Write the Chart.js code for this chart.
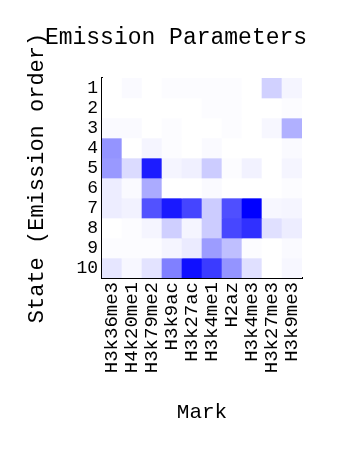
<!DOCTYPE html>
<html>
<head>
<meta charset="utf-8">
<script src="https://cdn.jsdelivr.net/npm/chart.js@4/dist/chart.umd.min.js"></script>
<style>
  html, body { margin: 0; padding: 0; background: #fff; }
  canvas { display: block; }
</style>
</head>
<body>
<canvas id="emission" width="352" height="452"></canvas>
<script>
const marks = ['H3k36me3', 'H4k20me1', 'H3k79me2', 'H3k9ac', 'H3k27ac',
               'H3k4me1', 'H2az', 'H3k4me3', 'H3k27me3', 'H3k9me3'];
const states = ['1', '2', '3', '4', '5', '6', '7', '8', '9', '10'];

// emission strength per mark, one array per state (0 = white, 1 = full blue)
const state1  = [0.00, 0.02, 0.00, 0.01, 0.01, 0.01, 0.01, 0.00, 0.18, 0.04];
const state2  = [0.00, 0.00, 0.00, 0.00, 0.00, 0.01, 0.01, 0.00, 0.00, 0.01];
const state3  = [0.02, 0.02, 0.00, 0.01, 0.00, 0.00, 0.01, 0.00, 0.03, 0.31];
const state4  = [0.42, 0.00, 0.04, 0.01, 0.00, 0.02, 0.00, 0.00, 0.00, 0.02];
const state5  = [0.40, 0.14, 0.89, 0.04, 0.06, 0.20, 0.01, 0.05, 0.00, 0.04];
const state6  = [0.07, 0.02, 0.33, 0.00, 0.00, 0.02, 0.00, 0.00, 0.00, 0.01];
const state7  = [0.07, 0.05, 0.68, 0.90, 0.73, 0.20, 0.69, 1.00, 0.03, 0.04];
const state8  = [0.00, 0.01, 0.04, 0.19, 0.04, 0.20, 0.72, 0.81, 0.12, 0.07];
const state9  = [0.01, 0.01, 0.01, 0.04, 0.08, 0.39, 0.25, 0.01, 0.00, 0.02];
const state10 = [0.10, 0.03, 0.11, 0.50, 0.94, 0.77, 0.42, 0.12, 0.00, 0.03];

const emissionRows = [state1, state2, state3, state4, state5,
                      state6, state7, state8, state9, state10];

const FONT = "'Liberation Mono', monospace";

function cellColor(v) {
    const c = Math.round(255 * (1 - v));
    return `rgb(${c}, ${c}, 255)`;
}

// one floating-bar dataset per state row, bars overlap full width (grouped: false)
const datasets = emissionRows.map((row, i) => {
    const s = Number(states[i]);
    return {
        label: 'State ' + states[i],
        data: marks.map(() => [s - 0.5, s + 0.5]),
        backgroundColor: row.map(cellColor),
        borderWidth: 0,
        grouped: false,
        barPercentage: 1,
        categoryPercentage: 1
    };
});

new Chart(document.getElementById('emission').getContext('2d'), {
    type: 'bar',
    data: { labels: marks, datasets: datasets },
    options: {
        responsive: false,
        animation: false,
        events: [],
        layout: { padding: 0 },
        plugins: {
            legend: { display: false },
            tooltip: { enabled: false },
            title: {
                display: true,
                text: 'Emission Parameters',
                color: '#000',
                font: { family: FONT, size: 23, weight: 'normal' },
                padding: { top: 24, bottom: 26.4 }
            }
        },
        scales: {
            x: {
                grid: { display: false, drawTicks: false },
                border: { display: true, color: '#000', width: 2 },
                ticks: {
                    color: '#000',
                    font: { family: FONT, size: 19 },
                    autoSkip: false,
                    minRotation: 90,
                    maxRotation: 90,
                    padding: 4
                },
                title: {
                    display: true,
                    text: 'Mark',
                    color: '#000',
                    font: { family: FONT, size: 21 },
                    padding: { top: 0, bottom: 27.4 }
                },
                afterFit: function(scale) { scale.height = 174; }
            },
            y: {
                type: 'linear',
                reverse: true,
                min: 0.5,
                max: 10.5,
                grid: { display: false, drawTicks: false },
                border: { display: true, color: '#000', width: 2 },
                ticks: {
                    color: '#000',
                    font: { family: FONT, size: 18 },
                    autoSkip: false,
                    padding: 4
                },
                afterBuildTicks: function(scale) {
                    scale.ticks = states.map(s => ({ value: Number(s) }));
                },
                title: {
                    display: true,
                    text: 'State (Emission order)',
                    color: '#000',
                    font: { family: FONT, size: 22 },
                    padding: { top: 24, bottom: 0 }
                },
                afterFit: function(scale) { scale.width = 102; }
            },
            // empty right-hand axis that only reserves the blank margin
            yRight: {
                type: 'linear',
                position: 'right',
                grid: { display: false, drawTicks: false },
                border: { display: false },
                ticks: { display: false },
                afterFit: function(scale) { scale.width = 50; }
            }
        }
    }
});
</script>
</body>
</html>
